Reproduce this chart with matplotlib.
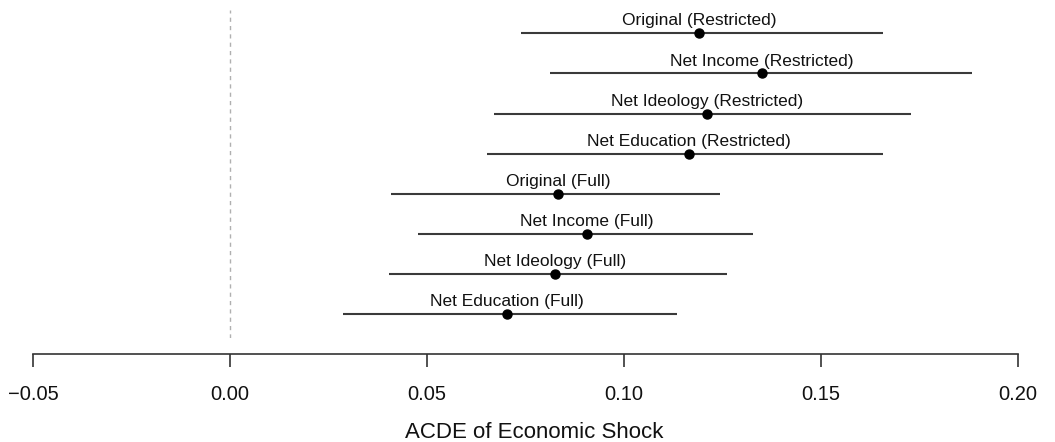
import matplotlib
matplotlib.use("Agg")
import matplotlib.pyplot as plt

labels = ["Original (Restricted)", "Net Income (Restricted)", "Net Ideology (Restricted)",
          "Net Education (Restricted)", "Original (Full)", "Net Income (Full)",
          "Net Ideology (Full)", "Net Education (Full)"]
estimates = [0.1191, 0.1351, 0.1211, 0.1166, 0.0832, 0.0906, 0.0826, 0.0703]
lower = [0.0739, 0.0813, 0.0670, 0.0653, 0.0408, 0.0476, 0.0404, 0.0286]
upper = [0.1657, 0.1883, 0.1729, 0.1657, 0.1244, 0.1327, 0.1261, 0.1134]
xticks = [-0.05, 0.00, 0.05, 0.10, 0.15, 0.20]
xtick_labels = ["\u22120.05", "0.00", "0.05", "0.10", "0.15", "0.20"]

plt.rcParams['font.family'] = ['Liberation Sans', 'DejaVu Sans']

W, H = 1055, 442
fig = plt.figure(figsize=(W / 100, H / 100), dpi=100)
left_px, right_px = 33.3, 1017.7
top_px, bot_px = 10, 338
ax = fig.add_axes([left_px / W, 1 - bot_px / H, (right_px - left_px) / W, (bot_px - top_px) / H])
ax.set_xlim(-0.05, 0.20)
ax.set_ylim(0.41, 8.58)

n = len(labels)
ys = [n - i for i in range(n)]

ax.axvline(0, color="#b0b0b0", linestyle=(0, (3, 3)), linewidth=1.0, zorder=1)

for y, est, lo, hi, lab in zip(ys, estimates, lower, upper, labels):
    ax.plot([lo, hi], [y, y], color="#3a3a3a", linewidth=1.5, solid_capstyle="butt", zorder=2)
    ax.plot([est], [y], marker="o", color="black", markersize=6.5, zorder=3)
    ax.annotate(lab, (est, y), xytext=(0, 3.5), textcoords="offset points",
                ha="center", va="bottom", fontsize=12.5, color="#111111")

for side in ["top", "right", "left"]:
    ax.spines[side].set_visible(False)
ax.spines["bottom"].set_position(("outward", 11.5))
ax.spines["bottom"].set_bounds(-0.05, 0.20)
ax.spines["bottom"].set_color("#333333")
ax.spines["bottom"].set_linewidth(1.2)
ax.set_yticks([])
ax.set_xticks(xticks)
ax.set_xticklabels(xtick_labels)
ax.tick_params(axis="x", direction="out", length=9, width=1.2, color="#333333",
               pad=13.5, labelsize=14.5, labelcolor="#111111")
ax.set_xlabel("ACDE of Economic Shock", fontsize=16, color="#111111", labelpad=11)
ax.xaxis.set_label_coords(0.509, -0.255)

fig.savefig("out.png", dpi=100, facecolor="white")
